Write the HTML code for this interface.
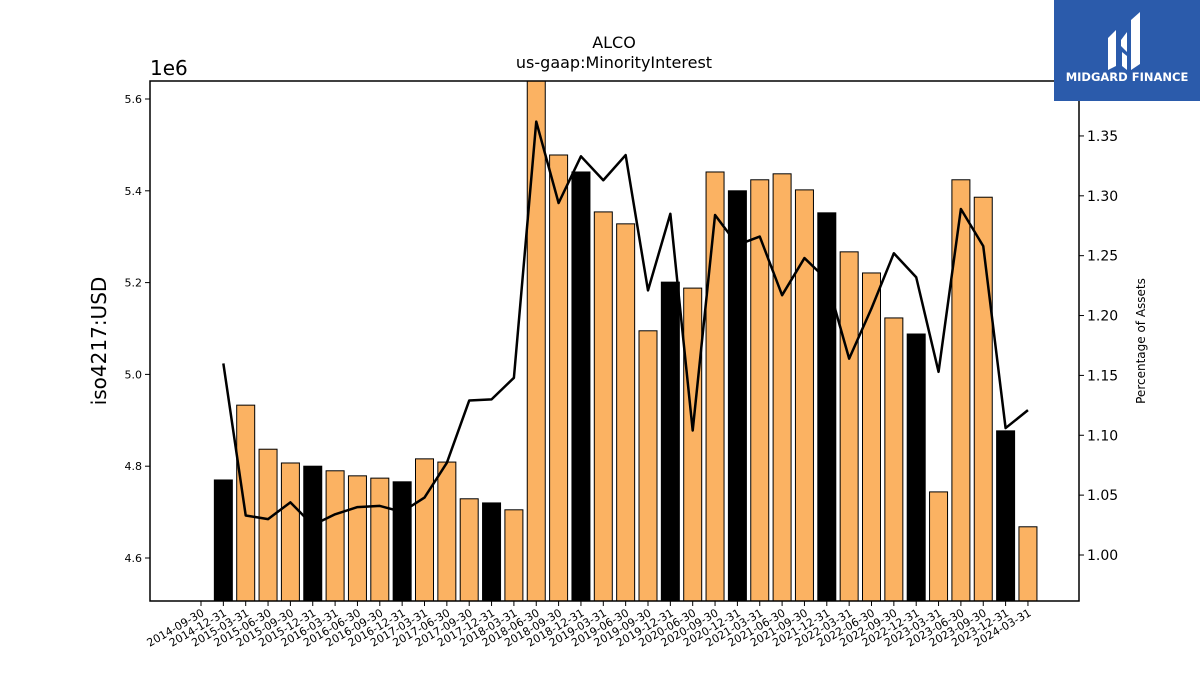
<!DOCTYPE html>
<html><head><meta charset="utf-8"><style>
body{margin:0;background:#fff;width:1200px;height:675px;overflow:hidden;font-family:"Liberation Sans","DejaVu Sans",sans-serif}
</style></head><body>
<svg id="chart" width="1200" height="675" xmlns="http://www.w3.org/2000/svg" font-family="DejaVu Sans, Liberation Sans, sans-serif">
<text x="614" y="48" text-anchor="middle" font-size="16">ALCO</text>
<text x="614" y="68" text-anchor="middle" font-size="16">us-gaap:MinorityInterest</text>
<text x="150" y="75" font-size="20">1e6</text>
<text transform="translate(106,341) rotate(-90)" text-anchor="middle" font-size="20">iso4217:USD</text>
<text transform="translate(1145,341) rotate(-90)" text-anchor="middle" font-size="12">Percentage of Assets</text>
<g id="bars"></g>
<polyline id="line" fill="none" stroke="#000" stroke-width="2.5" stroke-linejoin="round"/>
<rect x="150" y="81" width="929" height="520" fill="none" stroke="#000" stroke-width="1.5"/>
<g id="axes"></g>
<g>
<rect x="1054" y="0" width="146" height="101" fill="#2b5bab"/>
<path d="M1108 38 L1116 30 L1116 66 L1108 70 Z M1121 40 L1127 32 L1127 52 L1121 46 Z M1122 52 L1127 56 L1127 70 L1122 66 Z M1131 20 L1140 12 L1140 64 L1131 70 Z" fill="#fff"/>
<text x="1127" y="81" text-anchor="middle" font-size="11.5" font-weight="bold" fill="#fff">MIDGARD FINANCE</text>
</g>
</svg>
<script>
const tickLabels=["2014-09-30","2014-12-31","2015-03-31","2015-06-30","2015-09-30","2015-12-31","2016-03-31","2016-06-30","2016-09-30","2016-12-31","2017-03-31","2017-06-30","2017-09-30","2017-12-31","2018-03-31","2018-06-30","2018-09-30","2018-12-31","2019-03-31","2019-06-30","2019-09-30","2019-12-31","2020-06-30","2020-09-30","2020-12-31","2021-03-31","2021-06-30","2021-09-30","2021-12-31","2022-03-31","2022-06-30","2022-09-30","2022-12-31","2023-03-31","2023-06-30","2023-09-30","2023-12-31","2024-03-31"];
const barValues=[4.770,4.933,4.837,4.807,4.800,4.790,4.779,4.774,4.766,4.816,4.809,4.729,4.720,4.705,5.70,5.478,5.441,5.354,5.328,5.095,5.201,5.188,5.441,5.400,5.424,5.437,5.402,5.352,5.267,5.221,5.123,5.088,4.744,5.424,5.386,4.877,4.668];
const barHighlight=[1,0,0,0,1,0,0,0,1,0,0,0,1,0,0,0,1,0,0,0,1,0,0,1,0,0,0,1,0,0,0,1,0,0,0,1,0];
const pctValues=[1.160,1.033,1.030,1.044,1.025,1.034,1.040,1.041,1.036,1.048,1.077,1.129,1.130,1.148,1.362,1.294,1.333,1.313,1.334,1.221,1.285,1.104,1.284,1.259,1.266,1.217,1.248,1.230,1.164,1.206,1.252,1.232,1.153,1.289,1.258,1.106,1.121];
const leftTicks=[4.6,4.8,5.0,5.2,5.4,5.6];
const rightTicks=[1.00,1.05,1.10,1.15,1.20,1.25,1.30,1.35];
const NS="http://www.w3.org/2000/svg";
const X0=150,X1=1079,Y0=81,Y1=601;
const yL=v=>558-(v-4.6)*459;
const yR=v=>555-(v-1.0)*1197.3;
const xT=i=>201+22.35*i;
const xB=i=>xT(i+1);
const bars=document.getElementById('bars'),axes=document.getElementById('axes');
barValues.forEach((v,i)=>{
 const r=document.createElementNS(NS,'rect');
 
 
 const top=Math.max(Y0,yL(v));
 r.setAttribute('x',xB(i)-9);r.setAttribute('width',18);
 r.setAttribute('y',top);r.setAttribute('height',Y1-top);
 r.setAttribute('fill',barHighlight[i]?'#000':'#fbb262');
 r.setAttribute('stroke','#000');r.setAttribute('stroke-width','1');
 bars.appendChild(r);
});
document.getElementById('line').setAttribute('points',pctValues.map((v,i)=>xB(i)+','+yR(v)).join(' '));
tickLabels.forEach((t,i)=>{
 const x=xT(i);
 const l=document.createElementNS(NS,'line');
 
 
 l.setAttribute('x1',x);l.setAttribute('x2',x);l.setAttribute('y1',Y1);l.setAttribute('y2',Y1+5);l.setAttribute('stroke','#000');
 axes.appendChild(l);
 const tx=document.createElementNS(NS,'text');
 
 
 tx.setAttribute('font-size','11');tx.setAttribute('text-anchor','end');
 tx.setAttribute('transform','translate('+(x+4)+','+(Y1+14)+') rotate(-30)');
 tx.textContent=t;axes.appendChild(tx);
});
leftTicks.forEach(v=>{
 const y=yL(v);
 const l=document.createElementNS(NS,'line');
 
 
 l.setAttribute('x1',X0-5);l.setAttribute('x2',X0);l.setAttribute('y1',y);l.setAttribute('y2',y);l.setAttribute('stroke','#000');
 axes.appendChild(l);
 const tx=document.createElementNS(NS,'text');
 
 
 tx.setAttribute('x',X0-8);tx.setAttribute('y',y+4);tx.setAttribute('font-size','11');tx.setAttribute('text-anchor','end');
 tx.textContent=v.toFixed(1);axes.appendChild(tx);
});
rightTicks.forEach(v=>{
 const y=yR(v);
 const l=document.createElementNS(NS,'line');
 
 
 l.setAttribute('x1',X1);l.setAttribute('x2',X1+5);l.setAttribute('y1',y);l.setAttribute('y2',y);l.setAttribute('stroke','#000');
 axes.appendChild(l);
 const tx=document.createElementNS(NS,'text');
 
 
 tx.setAttribute('x',X1+8);tx.setAttribute('y',y+5);tx.setAttribute('font-size','14');
 tx.textContent=v.toFixed(2);axes.appendChild(tx);
});
</script>
</body></html>
